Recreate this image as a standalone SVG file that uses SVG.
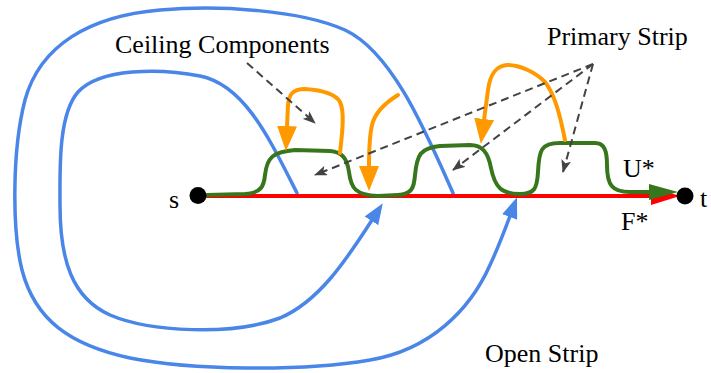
<svg xmlns="http://www.w3.org/2000/svg" width="711" height="373" viewBox="0 0 711 373">
<style>
.lbl{font-family:"Liberation Serif","Times New Roman",serif;font-size:26px;fill:#000}
.blue{fill:none;stroke:#4a86e8;stroke-width:3.5;stroke-linecap:round}
.orange{fill:none;stroke:#ff9900;stroke-width:4;stroke-linecap:round;stroke-linejoin:round}
.green{fill:none;stroke:#38761d;stroke-width:4;stroke-linecap:round;stroke-linejoin:round}
.red{fill:none;stroke:#ff0000;stroke-width:4}
.dash{fill:none;stroke:#434343;stroke-width:2;stroke-dasharray:8,5}
</style>
<defs>
<marker id="mBlue" markerUnits="userSpaceOnUse" markerWidth="22" markerHeight="16" refX="1" refY="8" orient="auto"><path d="M0,0 L21,8 L0,16 Z" fill="#4a86e8"/></marker>
<marker id="mOrange" markerUnits="userSpaceOnUse" markerWidth="25" markerHeight="20" refX="1" refY="10" orient="auto"><path d="M0,0 L25,10 L0,20 Z" fill="#ff9900"/></marker>
<marker id="mGreen" markerUnits="userSpaceOnUse" markerWidth="29" markerHeight="16" refX="1" refY="8" orient="auto"><path d="M0,0 L29,8 L0,16 Z" fill="#38761d"/></marker>
<marker id="mRed" markerUnits="userSpaceOnUse" markerWidth="29" markerHeight="18" refX="1" refY="9" orient="auto"><path d="M0,0 L29,9 L0,18 Z" fill="#ff0000"/></marker>
<marker id="mDash" markerUnits="userSpaceOnUse" markerWidth="13" markerHeight="10" refX="12" refY="5" orient="auto"><path d="M0,0 L13,5 L0,10 L3,5 Z" fill="#434343"/></marker>
</defs>
<g id="connectors">
<path id="open-outer" class="blue" marker-end="url(#mBlue)" d="M453,193 C425,130 392,52 345,30 C300,10 220,5 160,10 C90,16 40,45 25,100 C12,150 12,230 22,270 C35,320 70,345 130,358 C190,370 300,372 370,360 C430,350 470,310 490,265 C498,248 504,232 510,216"/>
<path id="open-inner" class="blue" marker-end="url(#mBlue)" d="M297,193 C270,140 245,85 200,76 C160,68 100,68 78,92 C58,115 60,170 60,205 C60,260 72,298 110,315 C150,332 232,336 280,318 C318,302 345,262 372,220"/>
<path id="f-star" class="red" marker-end="url(#mRed)" d="M200,196 L652,196"/>
<path id="u-star" class="green" marker-end="url(#mGreen)" d="M207,195 L245,194 C262,193 264,185 265,175 C267,158 272,152 295,150 L330,151 C342,152 347,158 349,172 C351,188 355,195 378,196 L398,195 C412,194 414,188 415,175 C417,155 420,148 440,146 L470,145 C482,145 488,152 491,168 C495,188 502,194 520,194 C535,194 537,188 538,172 C539,150 541,143 560,143 L595,143 C604,143 607,150 607,165 C607,185 612,192 630,192 L650,192"/>
<path id="ceil-1" class="orange" marker-end="url(#mOrange)" d="M340,153 C342,135 345,112 340,102 C335,93 320,90 305,89 C292,89 289,95 288,105 L287,127"/>
<path id="ceil-2" class="orange" marker-end="url(#mOrange)" d="M398,95 C385,103 375,112 372,125 C369,138 369,150 369,167"/>
<path id="ceil-3" class="orange" marker-end="url(#mOrange)" d="M565,140 C560,115 555,95 545,82 C535,72 520,65 507,65 C495,66 490,75 488,90 L484,120"/>
<path id="ptr-ceiling" class="dash" marker-end="url(#mDash)" d="M247,63 L315,123"/>
<path id="ptr-primary-1" class="dash" marker-end="url(#mDash)" d="M593,64 L315,175"/>
<path id="ptr-primary-2" class="dash" marker-end="url(#mDash)" d="M593,64 L453,170"/>
<path id="ptr-primary-3" class="dash" marker-end="url(#mDash)" d="M593,64 L563,172"/>
</g>
<g id="node-s"><circle cx="198" cy="195.5" r="8.5" fill="#000"/><text class="lbl" x="169" y="208">s</text></g>
<g id="node-t"><circle cx="685" cy="196" r="8.5" fill="#000"/><text class="lbl" x="700" y="207">t</text></g>
<g id="labels">
<text class="lbl" x="115" y="53">Ceiling Components</text>
<text class="lbl" x="547" y="45">Primary Strip</text>
<text class="lbl" x="623" y="177">U*</text>
<text class="lbl" x="621" y="230">F*</text>
<text class="lbl" x="485" y="362">Open Strip</text>
</g>
</svg>
